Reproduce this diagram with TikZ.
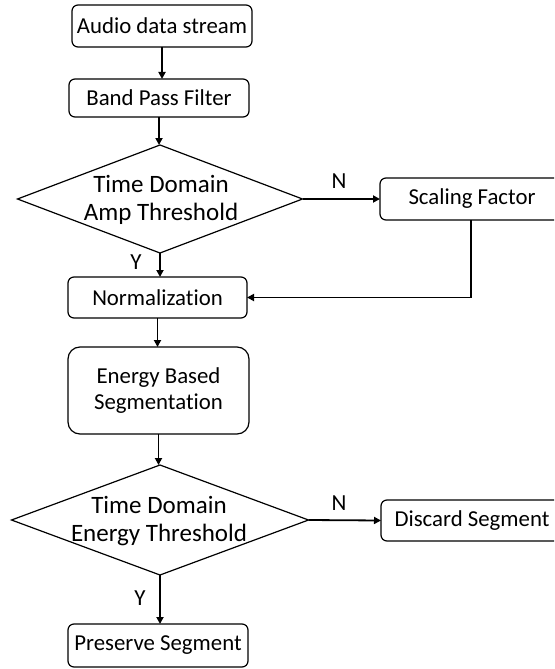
\documentclass[tikz,border=0pt]{standalone}
\usepackage{fontspec}
\setmainfont{Carlito}[Ligatures=NoCommon]
\usetikzlibrary{shapes.geometric,arrows.meta,calc}
\tikzset{
  box/.style={draw, line width=1.2pt, rounded corners=6pt, inner sep=0pt, outer sep=0pt, align=center, font=\fontsize{22.8}{26}\selectfont},
  dia/.style={draw, diamond, line width=1.2pt, inner sep=0pt, outer sep=0pt},
  dtext/.style={align=center, inner sep=0pt, font=\fontsize{25}{28.5}\selectfont},
  lab/.style={inner sep=0pt, font=\fontsize{23}{26}\selectfont},
  arr/.style={line width=1.8pt, -{Triangle[length=7pt,width=7pt]}},
  ln/.style={line width=1.8pt}
}
\begin{document}
\begin{tikzpicture}[x=1pt,y=-1pt]
\useasboundingbox (0,0) rectangle (554,669);
\clip (0,0) rectangle (554,669);
\node[box, minimum width=180pt, minimum height=42pt] (b1) at (162,26) {Audio data stream};
\node[box, minimum width=180pt, minimum height=38pt] (b2) at (159,98) {Band Pass Filter};
\node[dia, minimum width=285pt, minimum height=108pt] (d1) at (160,199) {};
\node[dtext] (d1t) at (161,200) {Time Domain\\Amp Threshold};
\node[box, minimum width=184pt, minimum height=42pt] (sf) at (472,199) {Scaling Factor};
\node[box, minimum width=179pt, minimum height=41pt] (nm) at (157.5,297.5) {Normalization};
\node[box, rounded corners=12pt, minimum width=181pt, minimum height=87pt] (eb) at (158.5,390.5) {Energy Based\\Segmentation};
\node[dia, minimum width=297pt, minimum height=110pt] (d2) at (160,520) {};
\node[dtext] (d2t) at (159,521) {Time Domain\\Energy Threshold};
\node[box, minimum width=182pt, minimum height=41pt] (ds) at (472,520.5) {Discard Segment};
\node[box, minimum width=180pt, minimum height=43pt] (ps) at (158,645.5) {Preserve Segment};
\node[lab] (n1) at (339,181) {N};
\node[lab] (y1) at (136,262) {Y};
\node[lab] (n2) at (339,503) {N};
\node[lab] (y2) at (140,598) {Y};
\draw[arr] (b1.south) -- (b1.south |- b2.north);
\draw[arr] (b2.south) -- (b2.south |- d1.north);
\draw[arr] (d1.south) -- (d1.south |- nm.north);
\draw[arr] (d1.east) -- (sf.west);
\coordinate (sfb) at (471,220);
\draw[arr] (sfb) |- (nm.east);
\draw[arr] (nm.south) -- (nm.south |- eb.north);
\draw[arr] (eb.south) -- (eb.south |- d2.north);
\draw[arr] (d2.east) -- (ds.west);
\draw[arr] (d2.south) -- (d2.south |- ps.north);
\end{tikzpicture}
\end{document}
